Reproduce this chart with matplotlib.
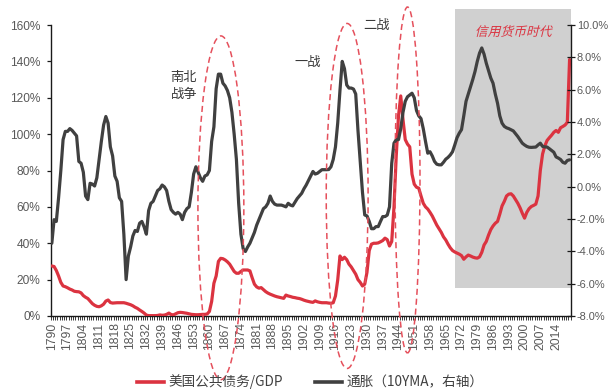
import numpy as np
import matplotlib
matplotlib.use("Agg")
import matplotlib.pyplot as plt
import matplotlib.transforms as mtransforms
from matplotlib.patches import Ellipse, Rectangle, PathPatch
from matplotlib.textpath import TextPath
from matplotlib.font_manager import FontProperties
from matplotlib.lines import Line2D

# ---- data -------------------------------------------------------------
years = list(range(1790, 2021))

# US public debt / GDP (%), left axis
debt_gdp = [
    27.5, 27.2, 25.0, 22.0, 18.5, 16.5, 16.1, 15.5, 14.8, 14.3,
    13.6, 13.4, 13.3, 12.7, 11.2, 10.3, 9.6, 8.2, 6.8, 5.9,
    5.3, 5.1, 5.6, 6.5, 8.2, 8.8, 7.4, 7.1, 7.2, 7.3,
    7.3, 7.3, 7.3, 7.0, 6.6, 6.2, 5.6, 4.8, 4.2, 3.3,
    2.5, 1.6, 0.5, 0.2, 0.2, 0.2, 0.2, 0.3, 0.6, 0.4,
    0.5, 0.9, 1.6, 0.8, 0.6, 1.2, 1.8, 2.0, 1.9, 1.7,
    1.5, 1.2, 0.9, 0.8, 0.7, 0.7, 0.8, 0.9, 0.9, 1.1,
    2.5, 8.0, 18.0, 22.0, 30.0, 31.7, 31.5, 30.8, 29.8, 28.5,
    26.5, 24.5, 23.5, 23.5, 24.5, 25.3, 25.3, 25.3, 24.8, 21.0,
    17.5, 16.0, 15.3, 15.6, 14.5, 13.4, 12.6, 12.0, 11.5, 11.0,
    10.6, 10.3, 10.0, 9.7, 11.5, 11.0, 10.7, 10.3, 10.1, 9.8,
    9.6, 9.2, 8.7, 8.3, 8.0, 7.7, 7.5, 8.3, 7.8, 7.5,
    7.3, 7.3, 7.3, 7.1, 7.0, 7.3, 11.0, 19.8, 33.0, 31.0,
    32.3, 31.0, 28.5, 27.0, 25.0, 23.0, 20.0, 18.5, 16.5, 17.5,
    24.0, 36.0, 39.5, 40.0, 40.0, 40.2, 40.8, 41.5, 42.8, 42.0,
    38.5, 41.0, 60.0, 88.0, 110.0, 121.0, 108.0, 97.0, 94.5, 93.0,
    78.0, 72.5, 70.8, 70.3, 66.0, 62.0, 60.0, 58.8, 57.0, 55.0,
    52.5, 50.0, 48.0, 46.0, 43.5, 41.8, 39.5, 37.5, 36.0, 35.2,
    34.6, 34.0, 33.2, 31.2, 32.5, 33.5, 33.0, 32.4, 32.0, 31.8,
    32.5, 35.0, 39.0, 41.0, 44.5, 47.5, 49.5, 51.0, 52.0, 56.0,
    60.5, 63.0, 66.0, 67.0, 67.2, 66.0, 64.0, 62.0, 59.5, 56.5,
    53.8, 57.0, 59.0, 60.2, 60.8, 61.5, 66.0, 80.0, 89.0, 93.5,
    96.5, 98.0, 99.4, 101.0, 102.0, 101.0, 103.5, 104.2, 105.0, 106.5,
    141.0,
]

# Inflation, 10-year moving average (%), right axis
inflation_10yma = [
    -3.50, -2.04, -2.15, -0.69, 1.00, 2.91, 3.42, 3.42, 3.59, 3.48,
    3.31, 3.14, 1.56, 1.45, 0.89, -0.58, -0.80, 0.21, 0.16, 0.04,
    0.55, 1.68, 2.80, 3.81, 4.34, 3.93, 2.46, 1.90, 0.66, 0.33,
    -0.69, -0.91, -2.94, -5.75, -4.29, -3.73, -3.05, -2.71, -2.77, -2.26,
    -2.15, -2.49, -2.94, -1.48, -1.03, -0.91, -0.58, -0.24, -0.13, 0.10,
    -0.01, -0.24, -0.91, -1.42, -1.59, -1.70, -1.59, -1.70, -2.04, -1.59,
    -1.36, -1.25, -0.35, 0.78, 1.23, 0.89, 0.55, 0.33, 0.66, 0.73,
    1.00, 2.80, 3.70, 6.06, 6.96, 6.96, 6.40, 6.23, 5.95, 5.50,
    4.60, 3.25, 1.68, -1.03, -2.94, -3.84, -4.01, -3.73, -3.50, -3.16,
    -2.83, -2.38, -2.04, -1.70, -1.36, -1.25, -1.03, -0.58, -0.91, -1.08,
    -1.14, -1.14, -1.14, -1.19, -1.25, -1.03, -1.14, -1.19, -0.97, -0.74,
    -0.58, -0.41, -0.13, 0.10, 0.38, 0.66, 0.94, 0.78, 0.83, 0.94,
    1.05, 1.05, 1.05, 1.06, 1.23, 1.68, 2.46, 3.93, 5.95, 7.75,
    7.30, 6.29, 6.10, 6.10, 6.04, 5.73, 3.48, 1.56, -0.35, -1.75,
    -1.81, -2.15, -2.60, -2.60, -2.47, -2.47, -2.15, -1.85, -1.85, -1.76,
    -1.25, 1.45, 2.69, 2.91, 2.91, 3.59, 4.60, 5.28, 5.56, 5.67,
    5.78, 5.50, 4.71, 4.38, 4.21, 3.59, 2.80, 2.07, 2.16, 1.90,
    1.56, 1.39, 1.35, 1.35, 1.51, 1.70, 1.81, 1.96, 2.16, 2.58,
    3.03, 3.31, 3.53, 4.38, 5.28, 5.73, 6.18, 6.63, 7.13, 7.75,
    8.26, 8.58, 8.20, 7.64, 7.19, 6.72, 6.40, 5.73, 5.16, 4.38,
    3.93, 3.73, 3.64, 3.59, 3.52, 3.45, 3.28, 3.10, 2.89, 2.69,
    2.58, 2.49, 2.44, 2.43, 2.44, 2.45, 2.58, 2.69, 2.49, 2.46,
    2.45, 2.35, 2.24, 2.13, 1.84, 1.77, 1.68, 1.51, 1.45, 1.62,
    1.66,
]

tick_years = list(range(1790, 2015, 7))
left_ticks = [0, 20, 40, 60, 80, 100, 120, 140, 160]
right_ticks = [-8, -6, -4, -2, 0, 2, 4, 6, 8, 10]

series_labels = ["美国公共债务/GDP", "通胀（10YMA，右轴）"]
credit_era_label = "信用货币时代"
war_labels = ["南北\n战争", "一战", "二战"]

# ---- style ------------------------------------------------------------
RED = "#DB3340"
DARK = "#404040"
TICK_GREY = "#595959"
SHADE = "#D0D0D0"
ELLIPSE_RED = "#E5505C"
CJK = ["Noto Sans CJK SC", "DejaVu Sans"]
LATIN = ["Liberation Sans", "DejaVu Sans"]

fig = plt.figure(figsize=(6.08, 3.92), dpi=100)
ax = fig.add_axes([50.7 / 608, 1 - 316 / 392, 520 / 608, 291 / 392])
ax2 = ax.twinx()

x = np.arange(len(years))
ax.set_xlim(-0.5, len(years) - 0.5)
ax.set_ylim(0, 160)
ax2.set_ylim(-8, 10)

# shaded fiat-money era block (extends above the plot frame)
ax.add_patch(Rectangle((179.3, 15.4), 230.6 - 179.3, 168.8 - 15.4,
                       facecolor=SHADE, edgecolor="none",
                       clip_on=False, zorder=0))

ax.plot(x, debt_gdp, color=RED, lw=2.3, solid_joinstyle="round",
        solid_capstyle="round", zorder=3)
ax2.plot(x, inflation_10yma, color=DARK, lw=2.3, solid_joinstyle="round",
         solid_capstyle="round", zorder=3)

# ---- axes / ticks -----------------------------------------------------
for a in (ax, ax2):
    a.spines["top"].set_visible(False)
    for s in ("left", "right", "bottom"):
        a.spines[s].set_color("#1a1a1a")
        a.spines[s].set_linewidth(1.0)
ax.spines["right"].set_visible(False)
ax2.spines["left"].set_visible(False)
ax2.spines["bottom"].set_visible(False)

ax.set_yticks(left_ticks)
ax.set_yticklabels([f"{v}%" for v in left_ticks], family=LATIN,
                   fontsize=8.6, color=TICK_GREY)
ax.tick_params(axis="y", direction="out", length=3, width=0.9,
               color="#1a1a1a", pad=4.6)

ax2.set_yticks(right_ticks)
ax2.set_yticklabels([f"{v:.1f}%" for v in right_ticks], family=LATIN,
                    fontsize=7.9, color=TICK_GREY)
ax2.tick_params(axis="y", direction="inout", length=6.0, width=0.9,
                color="#1a1a1a", pad=1.4)

ax.set_xticks([years.index(y) for y in tick_years])
ax.set_xticklabels([str(y) for y in tick_years], rotation=90,
                   family=LATIN, fontsize=8.8, color=TICK_GREY)
ax.set_xticks(np.arange(-0.5, len(years), 1.0), minor=True)
ax.tick_params(axis="x", which="major", length=0, pad=4.6)
ax.tick_params(axis="x", which="minor", direction="out", length=3,
               width=0.6, color="#1a1a1a")

# ---- war-period dashed ellipses ----------------------------------------
ellipses = [((75.1, 59.5), 20.4, 189.0),
            ((131.2, 66.0), 18.6, 189.7),
            ((158.0, 74.8), 11.1, 190.2)]
for center, w, h in ellipses:
    ax2.add_artist(Ellipse(center, w, h, transform=ax.transData,
                           fill=False, edgecolor=ELLIPSE_RED, lw=1.1,
                           linestyle=(0, (4, 2.5)), clip_on=False,
                           zorder=5))

# ---- annotations ------------------------------------------------------
ax.text(58.7, 126.5, war_labels[0], family=CJK, fontsize=9.5,
        color="#3a3a3a", ha="center", va="center", linespacing=1.45)
ax.text(113.7, 139.6, war_labels[1], family=CJK, fontsize=9.5,
        color="#3a3a3a", ha="center", va="center")
ax.text(144.3, 159.5, war_labels[2], family=CJK, fontsize=9.5,
        color="#3a3a3a", ha="center", va="center", clip_on=False)

# slanted red caption for the fiat-money era
fp = FontProperties(family="Noto Sans CJK SC", weight="medium")
tp = TextPath((0, 0), credit_era_label, size=12.8, prop=fp)
bb = tp.get_extents()
slant = (mtransforms.Affine2D()
         .translate(-(bb.x0 + bb.x1) / 2, -(bb.y0 + bb.y1) / 2)
         .skew_deg(14, 0)
         + mtransforms.ScaledTranslation(205.5, 156.7, ax.transData))
fig.add_artist(PathPatch(tp, transform=slant, facecolor=RED,
                         edgecolor="none", zorder=6))

# ---- legend -----------------------------------------------------------
handles = [Line2D([], [], color=RED, lw=2.6),
           Line2D([], [], color=DARK, lw=2.6)]
fig.legend(handles, series_labels, loc="center",
           bbox_to_anchor=(0.51, 1 - 382 / 392), ncol=2, frameon=False,
           prop=FontProperties(family="Noto Sans CJK SC", size=9.8),
           labelcolor="#404040", handlelength=2.0, handletextpad=0.3,
           columnspacing=2.4)

fig.savefig("out.png", dpi=100)
